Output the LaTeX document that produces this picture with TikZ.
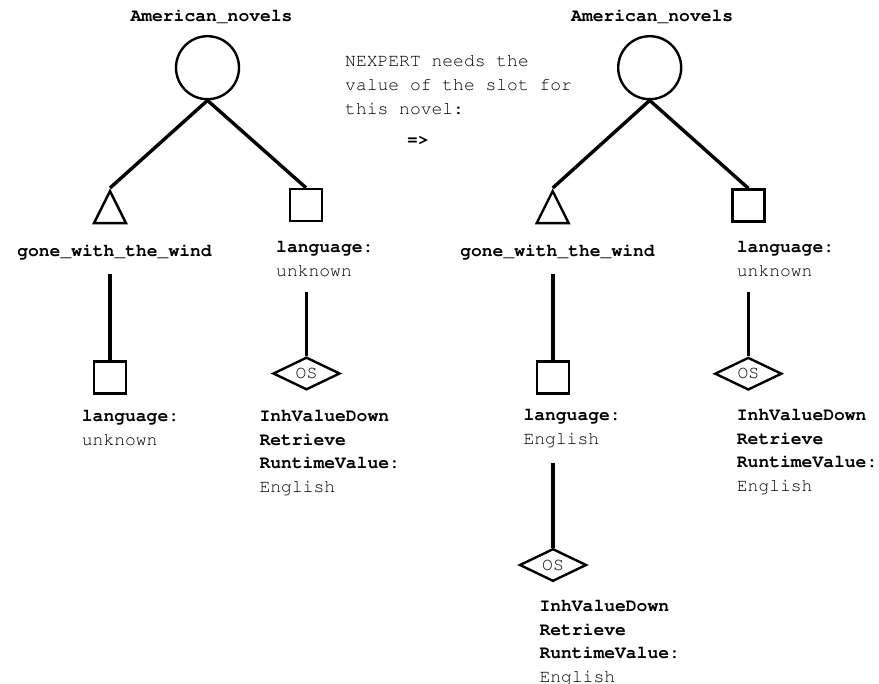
\documentclass[tikz,border=0pt]{standalone}
\usepackage[T1]{fontenc}
\usepackage{courier}
\usetikzlibrary{shapes.geometric}

\begin{document}
\begin{tikzpicture}[x=1pt,y=-1pt,
		bigvertex/.style={circle,draw,line width=2.4pt,minimum size=63pt,inner sep=0pt},
		trivertex/.style={isosceles triangle,isosceles triangle stretches,shape border rotate=90,
			draw,line width=2.4pt,minimum width=32pt,minimum height=32pt,inner sep=0pt},
		slotvertex/.style={rectangle,draw,line width=2.4pt,minimum size=32pt,inner sep=0pt},
		osvertex/.style={diamond,draw,line width=2.4pt,minimum width=67pt,minimum height=30pt,
			inner sep=0pt,font=\ttfamily\fontsize{18}{18}\selectfont},
		txt/.style={inner sep=0pt,anchor=base west,align=left,font=\ttfamily\fontsize{18}{23.5}\selectfont},
		link/.style={line width=3.4pt}
		]
		\useasboundingbox (0,0) rectangle (879,684);
		
		% left tree (multi-line texts sit on their last baseline)
		\node[bigvertex](C1) at (207.5,67.7){};
		\node[txt, anchor=base](A1) at (211.5,21.7){\textbf{American\_novels}};
		\node[trivertex, anchor=apex](T1) at (110,188){};
		\node[slotvertex](Q1) at (306,205){};
		\draw[link] (C1.south) -- (T1.apex);
		\draw[link] (C1.south) -- (Q1.north);
		\node[txt, anchor=base](G1) at (114.5,257){\textbf{gone\_with\_the\_wind}};
		\node[txt](L1) at (276,276.5){\textbf{language:}\\unknown};
		\node[slotvertex](Q2) at (110,377.5){};
		\draw[link, shorten <=14pt] (G1.south -| Q2.north) -- (Q2.north);
		\node[osvertex](O1) at (306.5,373.5){OS};
		\draw[link, shorten <=15.5pt] (L1.south -| O1.north) -- (O1.north);
		\node[txt](L2) at (81.7,445.2){\textbf{language:}\\unknown};
		\node[txt](R1) at (259.3,492.2){\textbf{InhValueDown}\\\textbf{Retrieve}\\\textbf{RuntimeValue:}\\English};
		
		% message
		\node[txt, font=\ttfamily\fontsize{18}{24}\selectfont](N0) at (345,114.7){NEXPERT needs the\\value of the slot for\\this novel:};
		\node[txt](N1) at (407,146){\textbf{=>}};
		
		% right tree
		\node[bigvertex](C2) at (649.7,67.7){};
		\node[txt, anchor=base](A2) at (652.2,21.7){\textbf{American\_novels}};
		\node[trivertex, anchor=apex](T2) at (552.7,188){};
		\node[slotvertex](Q3) at (748.3,205.5){};
		\draw[link] (C2.south) -- (T2.apex);
		\draw[link] (C2.south) -- (Q3.north);
		\node[txt, anchor=base](G2) at (557.5,257){\textbf{gone\_with\_the\_wind}};
		\node[txt](L3) at (736.7,276.5){\textbf{language:}\\unknown};
		\node[slotvertex](Q4) at (553,377.5){};
		\draw[link, shorten <=14pt] (G2.south -| Q4.north) -- (Q4.north);
		\node[txt](L4) at (523.3,444.5){\textbf{language:}\\English};
		\node[osvertex](O2) at (553,565){OS};
		\draw[link, shorten <=15.7pt] (L4.south -| O2.north) -- (O2.north);
		\node[txt](R2) at (539.3,682.2){\textbf{InhValueDown}\\\textbf{Retrieve}\\\textbf{RuntimeValue:}\\English};
		\node[osvertex](O3) at (748.3,373.7){OS};
		\draw[link, shorten <=15.5pt] (L3.south -| O3.north) -- (O3.north);
		\node[txt](R3) at (736.7,491.5){\textbf{InhValueDown}\\\textbf{Retrieve}\\\textbf{RuntimeValue:}\\English};
	\end{tikzpicture}
\end{document}
